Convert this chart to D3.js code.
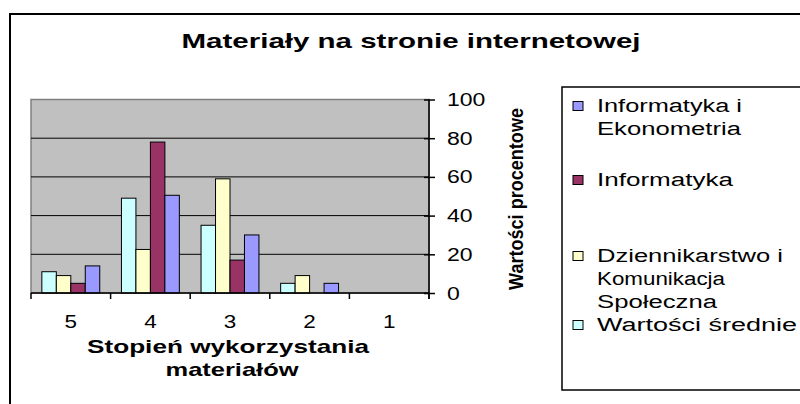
<!DOCTYPE html>
<html><head><meta charset="utf-8">
<script src="https://cdnjs.cloudflare.com/ajax/libs/d3/7.8.5/d3.min.js"></script>
<style>body{margin:0;background:#fff}svg{display:block;font-family:"Liberation Sans",Arial,sans-serif}</style>
</head><body><svg id="c" width="800" height="404"></svg>
<script>
const categories = ["5","4","3","2","1"];
const seriesNames = ["Wartości średnie","Dziennikarstwo i Komunikacja Społeczna","Informatyka","Informatyka i Ekonometria"];
const sredni = [11, 49, 35, 5, 0];
const dziennikarstwo = [9, 22.5, 59, 9, 0];
const informatyka = [5, 78, 17, 0, 0];
const ekonometria = [14, 50.5, 30, 5, 0];
const yTicks = [0, 20, 40, 60, 80, 100];
const colors = ["#CCFFFF","#FFFFCC","#993366","#9999FF"];
const legendOrder = [3, 2, 1, 0];
const legendLines = [["Informatyka i","Ekonometria"],["Informatyka"],["Dziennikarstwo i","Komunikacja","Społeczna"],["Wartości średnie"]];
const legendY = [112, 186, 262, 331];

const values = [sredni, dziennikarstwo, informatyka, ekonometria];
const svg = d3.select("#c");

function txt(x, y, s, fs, w, anchor, len, rot) {
  const t = svg.append("text").attr("x", x).attr("y", y).text(s)
    .attr("font-size", fs).attr("font-weight", w || "normal")
    .attr("text-anchor", anchor || "start").attr("fill", "#000");
  if (len) t.attr("textLength", len).attr("lengthAdjust", "spacingAndGlyphs");
  if (rot) t.attr("transform", `rotate(${rot},${x},${y})`);
  return t;
}

// outer frame
svg.append("rect").attr("x", 10).attr("y", 14).attr("width", 800).attr("height", 420)
  .attr("fill", "#fff").attr("stroke", "#000").attr("stroke-width", 2);

const pL = 31, pR = 429, pT = 99.5, pB = 293;
const x0 = d3.scaleBand().domain(categories).range([pL, pR]);
const x1 = d3.scaleBand().domain(d3.range(4)).range([0, x0.bandwidth()]).paddingOuter(0.75);
const y = d3.scaleLinear().domain([0, 100]).range([pB, pT]);

// plot area
svg.append("rect").attr("x", pL).attr("y", pT).attr("width", pR - pL).attr("height", pB - pT)
  .attr("fill", "#C0C0C0").attr("stroke", "#808080").attr("stroke-width", 1.5);
// gridlines
svg.append("g").selectAll("line").data(yTicks.filter(d => d > 0 && d < 100)).join("line")
  .attr("x1", pL).attr("x2", pR).attr("y1", d => y(d)).attr("y2", d => y(d))
  .attr("stroke", "#000").attr("stroke-width", 1);

// bars
values.forEach((vals, si) => {
  svg.append("g").selectAll("rect").data(categories.map((c, i) => ({c, v: vals[i]})).filter(d => d.v > 0)).join("rect")
    .attr("x", d => x0(d.c) + x1(si)).attr("width", x1.bandwidth())
    .attr("y", d => y(d.v)).attr("height", d => y(0) - y(d.v))
    .attr("fill", colors[si]).attr("stroke", "#000").attr("stroke-width", 1);
});

// right axis
const ya = d3.axisRight(y).tickValues(yTicks).tickSize(6).tickFormat("");
const gy = svg.append("g").attr("transform", `translate(${pR},0)`).call(ya);
gy.select(".domain").remove();
gy.selectAll(".tick line").attr("x1", -5).attr("x2", 6).attr("stroke", "#000").attr("stroke-width", 1.5);
svg.append("line").attr("x1", pR).attr("x2", pR).attr("y1", pT).attr("y2", pB + 6)
  .attr("stroke", "#000").attr("stroke-width", 1.5);
yTicks.forEach(t => {
  const s = String(t);
  txt(447, y(t) + 6.5, s, 18, "normal", "start", s.length * 12.8);
});

// bottom axis
svg.append("line").attr("x1", pL).attr("x2", pR).attr("y1", pB).attr("y2", pB)
  .attr("stroke", "#000").attr("stroke-width", 1.5);
const bounds = categories.map(c => x0(c)).concat([pR]);
svg.append("g").selectAll("line").data(bounds).join("line")
  .attr("x1", d => d).attr("x2", d => d).attr("y1", pB).attr("y2", pB + 6)
  .attr("stroke", "#000").attr("stroke-width", 1.5);
categories.forEach(c => txt(x0(c) + x0.bandwidth() / 2, 328, c, 18, "normal", "middle", 12.5));

// titles
txt(411, 48, "Materiały na stronie internetowej", 21, "bold", "middle", 459);
txt(228, 353, "Stopień wykorzystania", 18.5, "bold", "middle", 282);
txt(232, 376, "materiałów", 18.5, "bold", "middle", 133);
txt(523, 199, "Wartości procentowe", 20, "bold", "middle", 182, -90);

// legend
svg.append("rect").attr("x", 562).attr("y", 87).attr("width", 300).attr("height", 303)
  .attr("fill", "#fff").attr("stroke", "#000").attr("stroke-width", 1.5);
const widths = {"Informatyka i":145,"Ekonometria":144,"Informatyka":136,"Dziennikarstwo i":186,"Komunikacja":128,"Społeczna":120,"Wartości średnie":200};
legendOrder.forEach((si, k) => {
  const by = legendY[k];
  svg.append("rect").attr("x", 573).attr("y", by - 10.5).attr("width", 10).attr("height", 9)
    .attr("fill", colors[si]).attr("stroke", "#000").attr("stroke-width", 1);
  legendLines[k].forEach((ln, j) => txt(597, by + j * 23, ln, 18, "normal", "start", widths[ln]));
});
</script></body></html>
